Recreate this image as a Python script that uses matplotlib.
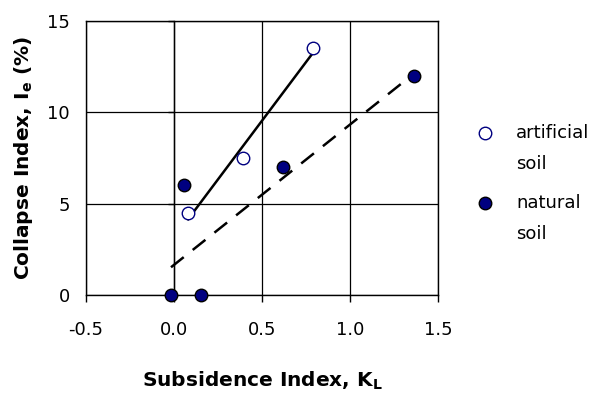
import numpy as np
import matplotlib
matplotlib.use("Agg")
import matplotlib.pyplot as plt
from matplotlib.lines import Line2D

# Data
artificial_x = [0.08, 0.39, 0.787]
artificial_y = [4.5, 7.5, 13.5]
natural_x = [-0.017, 0.058, 0.156, 0.62, 1.364]
natural_y = [0.0, 6.0, 0.0, 7.0, 12.0]
xticks = [-0.5, 0.0, 0.5, 1.0, 1.5]
xtick_labels = ["-0.5", "0.0", "0.5", "1.0", "1.5"]
yticks = [0, 5, 10, 15]
ytick_labels = ["0", "5", "10", "15"]
legend_labels = ["artificial\nsoil", "natural\nsoil"]

NAVY = "#000080"

fig = plt.figure(figsize=(5.97, 3.94), dpi=100)
ax = fig.add_axes([86/597, 1-295/394, (438-86)/597, (295-21)/394])

# trend lines (linear regression over each series' range)
for xs, ys, ls in [(artificial_x, artificial_y, "-"), (natural_x, natural_y, "--")]:
    k, b = np.polyfit(xs, ys, 1)
    xr = np.array([min(xs), max(xs)])
    line, = ax.plot(xr, k*xr + b, color="black", lw=1.8, ls=ls, zorder=3)
    if ls == "--":
        line.set_dashes((6.5, 4.6))

ax.plot(artificial_x, artificial_y, ls="none", marker="o", ms=9, mfc="white",
        mec=NAVY, mew=1.0, zorder=4, clip_on=False)
ax.plot(natural_x, natural_y, ls="none", marker="o", ms=9, mfc=NAVY,
        mec="black", mew=1.0, zorder=4, clip_on=False)

ax.set_xlim(-0.5, 1.5)
ax.set_ylim(0, 15)
ax.set_xticks(xticks)
ax.set_xticklabels(xtick_labels)
ax.set_yticks(yticks)
ax.set_yticklabels(ytick_labels)
ax.grid(True, color="black", lw=0.9)
ax.set_axisbelow(True)
for s in ax.spines.values():
    s.set_color("black")
    s.set_linewidth(1.0)

ax.tick_params(axis="y", length=0, pad=11.5, labelsize=13)
ax.tick_params(axis="x", length=5, width=1, direction="out", pad=14, labelsize=13)

# value axis crossing at x = 0
sec = ax.secondary_yaxis(0.25)
sec.set_yticks(yticks)
sec.set_yticklabels([])
sec.tick_params(length=4, width=1, direction="out")
sec.spines["left"].set_linewidth(1.0)

ax.set_xlabel(r"Subsidence Index, K$_{\mathbf{L}}$", fontsize=14.5, fontweight="bold", labelpad=22)
ax.set_ylabel(r"Collapse Index, I$_{\mathbf{e}}$ (%)", fontsize=14.5, fontweight="bold", labelpad=8.5)

# legend
W, H = 597, 394
for (my, ty), lab, mfc, mec in [((133, 124), legend_labels[0], "white", NAVY),
                                 ((203, 194), legend_labels[1], NAVY, "black")]:
    fig.add_artist(Line2D([485/W], [1-my/H], transform=fig.transFigure, ls="none",
                          marker="o", ms=9, mfc=mfc, mec=mec, mew=1.0))
    fig.text(516/W, 1-ty/H, lab, fontsize=13, va="top", ha="left", linespacing=1.9)

fig.savefig("out.png", dpi=100)
